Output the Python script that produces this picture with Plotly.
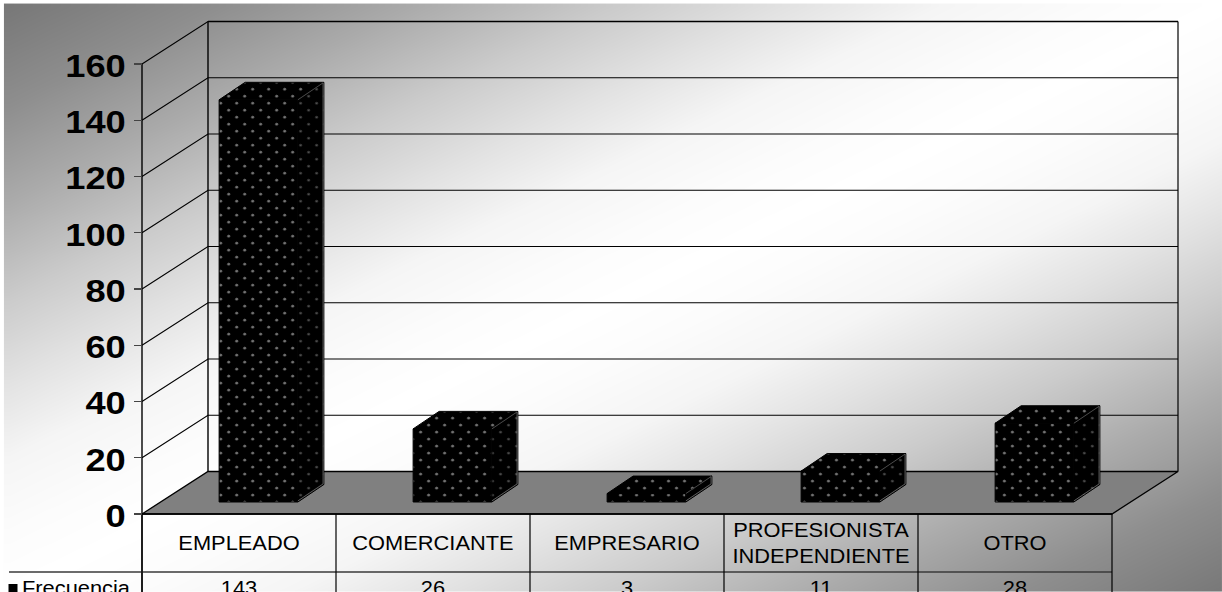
import numpy as np
import plotly.graph_objects as go

# ---- data ----
categories = ["EMPLEADO", "COMERCIANTE", "EMPRESARIO", "PROFESIONISTA<br>INDEPENDIENTE", "OTRO"]
values = [143, 26, 3, 11, 28]
series_name = "Frecuencia"
y_ticks = [0, 20, 40, 60, 80, 100, 120, 140, 160]

# ---- layout constants ----
W, H = 1222, 592
CAT_PX = 194.0          # pixels per category
VAL_PX = 2.8125         # pixels per value unit
X0_PX = 239.0           # pixel of the first category centre (front plane)
Y0_PX = 514.0           # pixel of value 0 (front plane)
DX = 66.0 / CAT_PX      # oblique depth of the floor, in category units
DY = 42.5 / VAL_PX      # oblique depth of the floor, in value units
BAR_HALF = 0.203
BAR_SHIFT = 19.5 / CAT_PX
BAR_BASE = 12.0 / VAL_PX
BAR_DX = 26.0 / CAT_PX
BAR_DY = 17.5 / VAL_PX
FONT = "Liberation Sans"


def px2x(p):
    return (p - X0_PX) / CAT_PX


def px2y(p):
    return (Y0_PX - p) / VAL_PX


X_LO, X_HI = -0.5, len(categories) - 0.5
V_TOP = y_ticks[-1]
fig = go.Figure()

# gradient backdrop
gx = np.linspace(px2x(9), px2x(W), 121)
gy = np.linspace(px2y(6), px2y(H), 121)
tx = np.linspace(0, 1, 121)
T = tx[:, None] + tx[None, :]
Z = 1 - np.abs(T - 1)
shade = [[0, 120], [0.17, 142], [0.33, 170], [0.5, 203], [0.64, 226], [0.77, 245], [0.9, 252], [1, 255]]
fig.add_trace(go.Heatmap(x=gx, y=gy, z=Z, zsmooth="best", showscale=False, hoverinfo="skip",
                         zmin=0, zmax=1,
                         colorscale=[[s, f"rgb({g},{g},{g})"] for s, g in shade]))


def line(xs, ys, color="black", width=1.2):
    fig.add_trace(go.Scatter(x=xs, y=ys, mode="lines", line=dict(color=color, width=width),
                             hoverinfo="skip", cliponaxis=False))


# floor
fig.add_trace(go.Scatter(
    x=[X_LO, X_LO + DX, X_HI + DX, X_HI, X_LO],
    y=[0, DY, DY, 0, 0], mode="lines", fill="toself", fillcolor="#808080",
    line=dict(color="black", width=1.3), hoverinfo="skip"))

# walls and gridlines
gxs, gys = [], []
for t in y_ticks[1:]:
    gxs += [X_LO, X_LO + DX, X_HI + DX, None]
    gys += [t, t + DY, t + DY, None]
line(gxs, gys, width=1.1)
line([X_LO, X_LO], [px2y(H + 5), V_TOP], width=1.4)
line([X_LO + DX, X_LO + DX], [DY, V_TOP + DY], width=1.4)
line([X_HI + DX, X_HI + DX], [DY, V_TOP + DY], width=1.2)
line([X_LO + DX, X_HI + DX], [V_TOP + DY, V_TOP + DY], width=1.6)

# table
table_mid = px2y(572)
line([px2x(9), X_HI], [table_mid, table_mid], color="#3a3a3a", width=1.5)
line([X_LO, X_HI], [0, 0], width=1.5)
txs, tys = [], []
for i in range(len(categories) + 1):
    txs += [X_LO + i, X_LO + i, None]
    tys += [0, px2y(H + 5), None]
line(txs, tys, width=1.2)

# bars
pattern = dict(shape=".", bgcolor="black", fgcolor="white", size=11.31, solidity=0.05)
pattern_side = dict(shape=".", bgcolor="black", fgcolor="#b0b0b0", size=11.31, solidity=0.04)
for i, v in enumerate(values):
    l, r = i - BAR_HALF + BAR_SHIFT, i + BAR_HALF + BAR_SHIFT
    dx, dy = BAR_DX, BAR_DY
    y0, y1 = BAR_BASE, v + BAR_BASE
    faces = [
        ([l, r, r, l, l], [y0, y0, y1, y1, y0], pattern, "black"),
        ([l, r, r + dx, l + dx, l], [y1, y1, y1 + dy, y1 + dy, y1], pattern, "black"),
        ([r, r + dx, r + dx, r, r], [y0, y0 + dy, y1 + dy, y1, y0], pattern_side, "black"),
    ]
    for xs, ys, pat, lc in faces:
        fig.add_trace(go.Scatter(x=xs, y=ys, mode="lines", fill="toself", fillpattern=pat,
                                 line=dict(color=lc, width=1), hoverinfo="skip"))
    line([r, r + dx * 0.97, r + dx * 0.97], [y0 + 0.4, y0 + dy * 0.97 + 0.4, y1 + dy * 0.97],
         color="#8a8a8a", width=0.7)
    line([r, r + dx * 0.97], [y1, y1 + dy * 0.97], color="#6a6a6a", width=0.7)

# table text
idx = list(range(len(categories)))
fig.add_trace(go.Scatter(x=idx, y=[px2y(545)] * len(idx), text=categories, mode="text",
                         textposition="middle center", hoverinfo="skip", cliponaxis=False,
                         textfont=dict(family=FONT, size=19.5, color="black")))
fig.add_trace(go.Scatter(x=idx, y=[px2y(590)] * len(idx), text=[str(v) for v in values], mode="text",
                         textposition="middle center", hoverinfo="skip", cliponaxis=False,
                         textfont=dict(family=FONT, size=19.5, color="black")))
# legend key
fig.add_trace(go.Scatter(x=[px2x(13)], y=[px2y(588.5)], mode="markers", hoverinfo="skip",
                         cliponaxis=False, marker=dict(symbol="square", size=9, color="black")))
fig.add_trace(go.Scatter(x=[px2x(22)], y=[px2y(590)], text=[series_name], mode="text",
                         textposition="middle right", hoverinfo="skip", cliponaxis=False,
                         textfont=dict(family=FONT, size=19.5, color="black")))

fig.update_layout(
    width=W, height=H, margin=dict(l=0, r=0, t=0, b=0, pad=0), showlegend=False,
    paper_bgcolor="white", plot_bgcolor="rgba(0,0,0,0)",
    xaxis=dict(range=[px2x(0), px2x(W)], visible=False, fixedrange=True),
    yaxis=dict(range=[px2y(H), px2y(0)], anchor="free", position=(X0_PX - CAT_PX / 2) / W,
               tickvals=y_ticks, ticks="outside", ticklen=8, tickcolor="#444", tickwidth=1.2,
               ticklabelstandoff=2, showgrid=False, zeroline=False, showline=False,
               automargin=False, fixedrange=True,
               tickfont=dict(family=FONT, size=31, color="black", weight="bold")),
)

post = """
document.body.style.margin='0';
document.documentElement.style.overflow='hidden';
document.querySelectorAll('pattern').forEach(function(p){
  p.setAttribute('patternTransform','translate(4.7,5.3) scale(1,0.875) rotate(45)');
});
function stretch(t, sx, left, dy){
  var b = t.getBBox();
  var o = left ? b.x : (t.closest('.ytick') ? b.x + b.width : b.x + b.width/2);
  var old = t.getAttribute('transform') || '';
  t.setAttribute('transform', old + ' translate(' + o + ',' + (dy||0) + ') scale(' + sx + ',1) translate(' + (-o) + ',0)');
}
document.querySelectorAll('.ytick text').forEach(function(t){ stretch(t, 1.17, false, 2); });
document.querySelectorAll('.textpoint text').forEach(function(t){
  stretch(t, 1.12, t.textContent === 'Frecuencia', 0);
});
"""
fig.write_html("out.html", post_script=post, config=dict(displayModeBar=False, staticPlot=True))
